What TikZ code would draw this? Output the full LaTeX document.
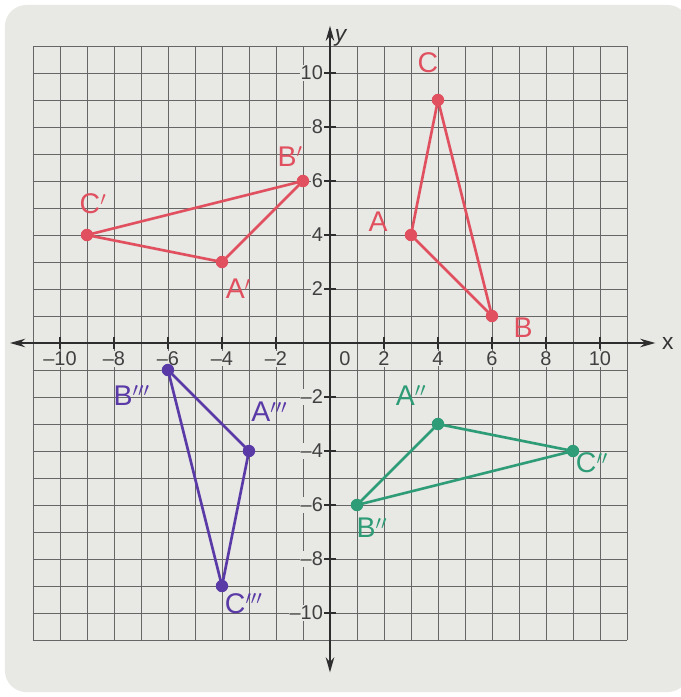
\documentclass[tikz,border=0pt]{standalone}
\usepackage{fontspec}
\setmainfont{Liberation Sans}
\usepackage{xcolor}
\usetikzlibrary{arrows.meta, positioning, calc}

\definecolor{paperclr}{HTML}{E8E8E5}
\definecolor{redpen}{HTML}{E0505F}
\definecolor{purplepen}{HTML}{5A3AA6}
\definecolor{greenpen}{HTML}{2E9C76}

\begin{document}
\begin{tikzpicture}[
    x=1cm, y=1cm,
    gridline/.style={draw=black!60, line width=0.6pt},
    axis/.style={draw=black!82, line width=1.6pt, {Stealth[length=16pt,width=9pt]}-{Stealth[length=16pt,width=9pt]}},
    tickmark/.style={draw=black!82, line width=1.2pt},
    ticklabel/.style={font=\fontsize{21}{21}\selectfont, text=black!75, fill=paperclr, inner sep=1pt},
    vtx/.style={circle, fill, inner sep=0pt, minimum size=0.46cm},
    side/.style={line width=2.8pt, line cap=round, line join=round},
    lbl/.style={font=\fontsize{30}{30}\selectfont, inner sep=0pt}
]
    \useasboundingbox (-12.222,-13.111) rectangle (13.0,12.704);
    \fill[white] (-12.222,-13.111) rectangle (13.0,12.704);
    \fill[paperclr, rounded corners=0.8cm] (-12.04,-12.93) rectangle (13.3,12.52);

    % graph paper
    \draw[gridline] (-11,-11) grid (11,11);

    % axes
    \draw[axis] (-11.85,0) -- (12.05,0) node[right=3pt, font=\fontsize{24}{24}\selectfont, text=black!80] (xlab) {x};
    \draw[axis] (0,-12.2) -- (0,11.75) node[right=1pt, font=\fontsize{24}{24}\selectfont\itshape, text=black!80, anchor=north west] (ylab) {y};

    % tick marks and numbers
    \foreach \v in {-10,-8,-6,-4,-2,2,4,6,8,10} {
        \draw[tickmark] (\v,-0.22) -- (\v,0.22);
        \draw[tickmark] (-0.22,\v) -- (0.22,\v);
        \node[ticklabel, anchor=north] (xt\v) at (\v,-0.28) {\ifnum\v<0 \textendash\fi\the\numexpr\ifnum\v<0 -\fi\v\relax};
        \node[ticklabel, anchor=east] (yt\v) at (-0.22,\v) {\ifnum\v<0 \textendash\fi\the\numexpr\ifnum\v<0 -\fi\v\relax};
    }
    \node[ticklabel, anchor=north] (xt0) at (0.55,-0.28) {0};

    % triangle ABC
    \node[vtx, redpen] (A) at (3,4) {};
    \node[vtx, redpen] (B) at (6,1) {};
    \node[vtx, redpen] (C) at (4,9) {};
    \draw[side, redpen] (A.center) -- (B.center) -- (C.center) -- cycle;
    \node[lbl, text=redpen] (lA) at ($(A)+(-1.22,0.48)$) {A};
    \node[lbl, text=redpen] (lB) at ($(B)+(1.15,-0.45)$) {B};
    \node[lbl, text=redpen] (lC) at ($(C)+(-0.37,1.37)$) {C};

    % triangle A'B'C'
    \node[vtx, redpen] (A1) at (-4,3) {};
    \node[vtx, redpen] (B1) at (-1,6) {};
    \node[vtx, redpen] (C1) at (-9,4) {};
    \draw[side, redpen] (A1.center) -- (B1.center) -- (C1.center) -- cycle;
    \node[lbl, text=redpen] (lA1) at ($(A1)+(0.6,-1.0)$) {A$'$};
    \node[lbl, text=redpen] (lB1) at ($(B1)+(-0.48,0.9)$) {B$'$};
    \node[lbl, text=redpen] (lC1) at ($(C1)+(0.22,1.15)$) {C$'$};

    % triangle A''B''C''
    \node[vtx, greenpen] (A2) at (4,-3) {};
    \node[vtx, greenpen] (B2) at (1,-6) {};
    \node[vtx, greenpen] (C2) at (9,-4) {};
    \draw[side, greenpen] (A2.center) -- (B2.center) -- (C2.center) -- cycle;
    \node[lbl, text=greenpen] (lA2) at ($(A2)+(-1.0,1.05)$) {A$''$};
    \node[lbl, text=greenpen] (lB2) at ($(B2)+(0.55,-0.85)$) {B$''$};
    \node[lbl, text=greenpen] (lC2) at ($(C2)+(0.7,-0.45)$) {C$''$};

    % triangle A'''B'''C'''
    \node[vtx, purplepen] (A3) at (-3,-4) {};
    \node[vtx, purplepen] (B3) at (-6,-1) {};
    \node[vtx, purplepen] (C3) at (-4,-9) {};
    \draw[side, purplepen] (A3.center) -- (B3.center) -- (C3.center) -- cycle;
    \node[lbl, text=purplepen] (lA3) at ($(A3)+(0.75,1.45)$) {A$'''$};
    \node[lbl, text=purplepen] (lB3) at ($(B3)+(-1.35,-0.95)$) {B$'''$};
    \node[lbl, text=purplepen] (lC3) at ($(C3)+(0.8,-0.65)$) {C$'''$};
\end{tikzpicture}
\end{document}
